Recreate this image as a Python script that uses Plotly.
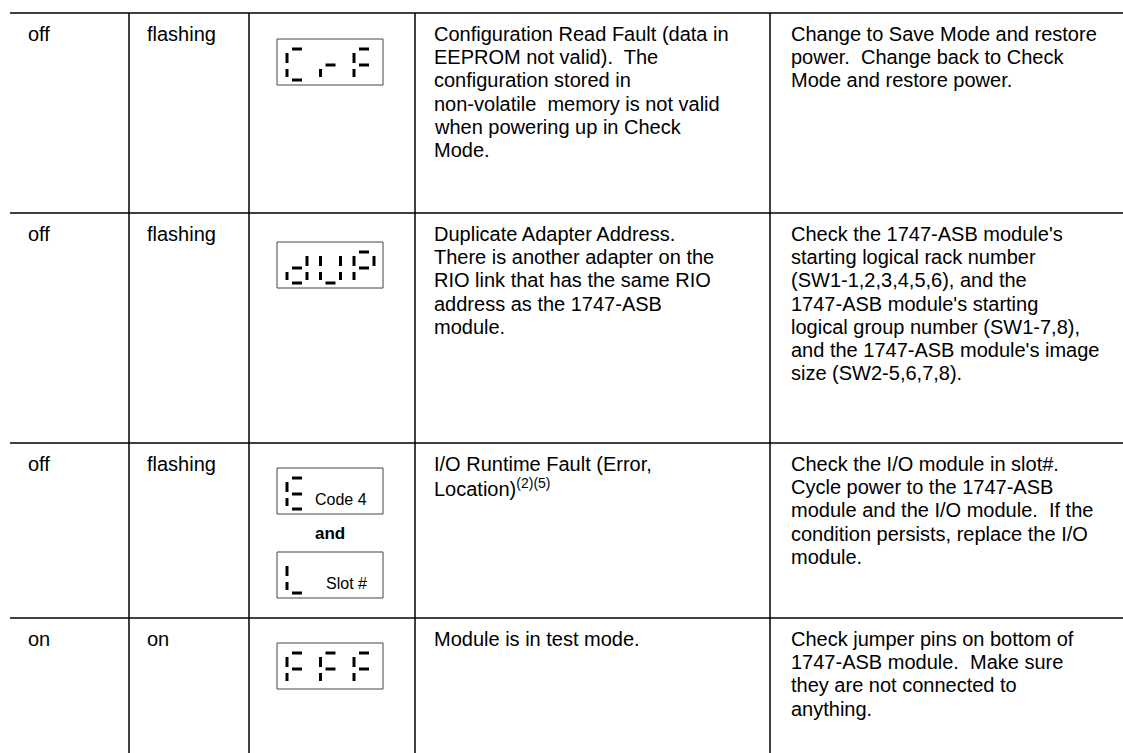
import plotly.graph_objects as go

# ---------------- data (table content) ----------------
led_comm = ["off", "off", "off", "on"]
led_fault = ["flashing", "flashing", "flashing", "on"]

# seven-segment codes shown in the display column (segment letters per digit)
display_codes = [
    [["adef", "eg", "aefg"]],
    [["bcdeg", "bcdef", "abefg"]],
    [["adefg"], ["def"]],
    [["aefg", "aefg", "aefg"]],
]
display_labels = [[""], [""], ["Code 4", "Slot #"], [""]]

descriptions = [
    ["Configuration Read Fault (data in", "EEPROM not valid).&nbsp; The", "configuration stored in",
     "non-volatile&nbsp; memory is not valid", "when powering up in Check", "Mode."],
    ["Duplicate Adapter Address.", "There is another adapter on the", "RIO link that has the same RIO",
     "address as the 1747-ASB", "module."],
    ["I/O Runtime Fault (Error,", "Location)<sup>(2)(5)</sup>"],
    ["Module is in test mode."],
]
actions = [
    ["Change to Save Mode and restore", "power.&nbsp; Change back to Check", "Mode and restore power."],
    ["Check the 1747-ASB module's", "starting logical rack number", "(SW1-1,2,3,4,5,6), and the",
     "1747-ASB module's starting", "logical group number (SW1-7,8),", "and the 1747-ASB module's image",
     "size (SW2-5,6,7,8)."],
    ["Check the I/O module in slot#.", "Cycle power to the 1747-ASB", "module and the I/O module.&nbsp; If the",
     "condition persists, replace the I/O", "module."],
    ["Check jumper pins on bottom of", "1747-ASB module.&nbsp; Make sure", "they are not connected to",
     "anything."],
]

# ---------------- layout constants ----------------
W, H = 1123, 753
FONT = "Liberation Sans Narrow, Liberation Sans, Arial, sans-serif"
FS = 20
row_tops = [13, 213, 443, 618]
col_lines = [129, 249, 415, 770]
text_x = [26, 145, None, 432, 789]
first_off = 21
pitch = 23.2
box_left, box_w, box_h = 277, 106, 46
box_tops = [[39], [242], [468, 552], [643]]

seg_tpl = {
    "a": ((5, 10), (15, 10)),
    "b": ((20, 14), (20, 24)),
    "c": ((20, 30), (20, 38)),
    "d": ((5, 41), (15, 41)),
    "e": ((0, 30), (0, 38)),
    "f": ((0, 14), (0, 24)),
    "g": ((5, 26), (15, 26)),
}

fig = go.Figure()
shapes = []
ann = []

# grid lines
for y in row_tops:
    shapes.append(dict(type="line", xref="x", yref="y", x0=10, x1=W, y0=y, y1=y,
                       line=dict(color="black", width=1.5)))
for x in col_lines:
    shapes.append(dict(type="line", xref="x", yref="y", x0=x, x1=x, y0=row_tops[0], y1=H,
                       line=dict(color="black", width=1.5)))

seg_x, seg_y = [], []
for r in range(4):
    top = row_tops[r]
    y0 = top + first_off
    ann.append(dict(x=text_x[0], y=y0, text=led_comm[r]))
    ann.append(dict(x=text_x[1], y=y0, text=led_fault[r]))
    for i, line in enumerate(descriptions[r]):
        ann.append(dict(x=text_x[3], y=y0 + i * pitch, text=line))
    for i, line in enumerate(actions[r]):
        ann.append(dict(x=text_x[4], y=y0 + i * pitch, text=line))
    # displays
    for b, code in enumerate(display_codes[r]):
        bt = box_tops[r][b]
        shapes.append(dict(type="rect", xref="x", yref="y", x0=box_left, x1=box_left + box_w,
                           y0=bt, y1=bt + box_h, line=dict(color="#444", width=1)))
        for d, segs in enumerate(code):
            x0 = box_left + 10 + 33.5 * d
            for s in segs:
                (ax, ay), (bx, by) = seg_tpl[s]
                seg_x += [x0 + ax, x0 + bx, None]
                seg_y += [bt + ay, bt + by, None]
        lab = display_labels[r][b]
        if lab:
            fig.add_annotation(x=box_left + 92, y=bt + 31, text=lab, showarrow=False,
                               xanchor="right", yanchor="middle", xref="x", yref="y",
                               font=dict(family=FONT, size=16, color="black"))
    if len(display_codes[r]) > 1:
        fig.add_annotation(x=box_left + box_w / 2, y=533, text="<b>and</b>", showarrow=False,
                           xanchor="center", yanchor="middle", xref="x", yref="y",
                           font=dict(family=FONT, size=17, color="black"))

fig.add_trace(go.Scatter(x=seg_x, y=seg_y, mode="lines", line=dict(color="black", width=3),
                         hoverinfo="skip", showlegend=False))

for a in ann:
    fig.add_annotation(x=a["x"], y=a["y"], text=a["text"], showarrow=False, xanchor="left",
                       yanchor="middle", xref="x", yref="y",
                       font=dict(family=FONT, size=FS, color="black"))

fig.update_layout(
    width=W, height=H, margin=dict(l=0, r=0, t=0, b=0),
    paper_bgcolor="white", plot_bgcolor="white", shapes=shapes, showlegend=False,
    xaxis=dict(range=[0, W], visible=False, fixedrange=True),
    yaxis=dict(range=[H, 0], visible=False, fixedrange=True),
)
fig.write_html("out.html", config={"displayModeBar": False},
               post_script="document.body.style.margin='0';document.body.style.padding='0';"
                           "document.documentElement.style.overflow='hidden';")
